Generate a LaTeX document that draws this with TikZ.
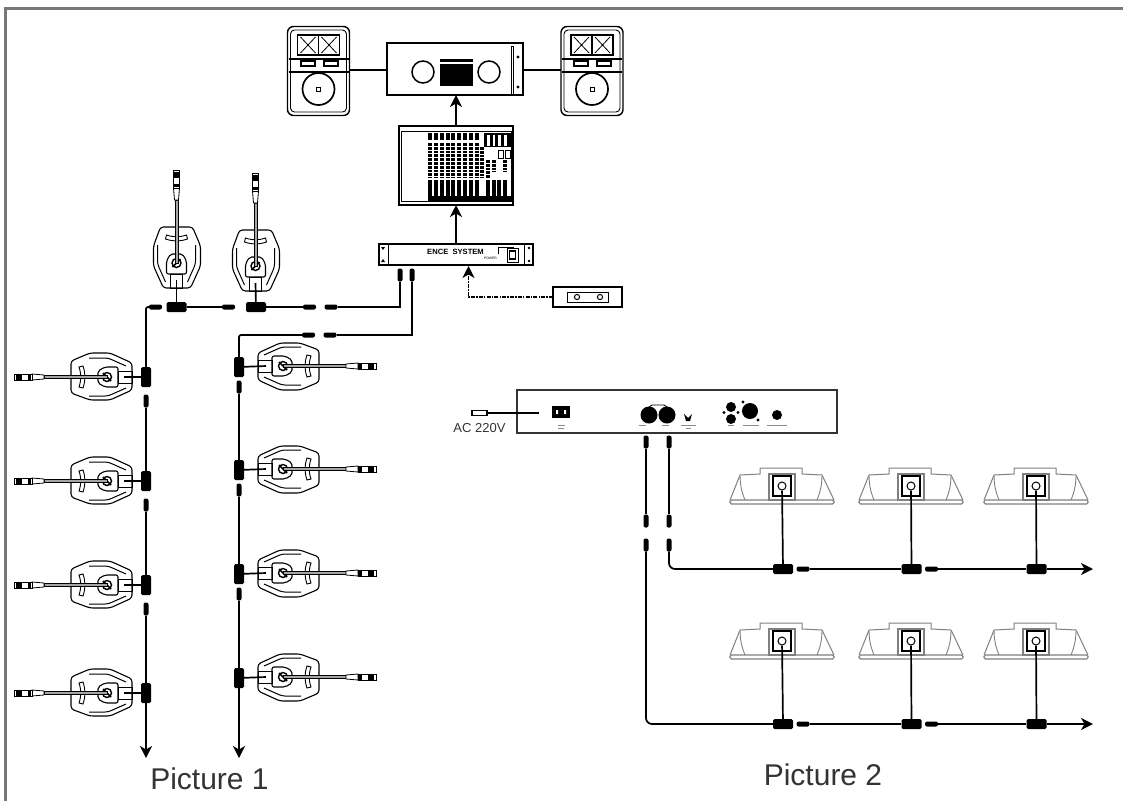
\documentclass[tikz,border=0pt]{standalone}
\usepackage{fontspec}
\setmainfont{Liberation Sans}
\usepackage{xcolor}
\usetikzlibrary{arrows.meta}
\definecolor{framegray}{HTML}{787878}
\definecolor{hoodgray}{HTML}{808080}
\definecolor{textgray}{HTML}{333333}
\tikzset{
    cable/.style={line width=1.7pt},
    tip/.style={-{Stealth[length=12pt,width=12pt,inset=3.5pt]}},
    jv/.style={fill=black,rounded corners=1.5pt,minimum width=10pt,minimum height=20pt,inner sep=0pt},
    jh/.style={fill=black,rounded corners=1.5pt,minimum width=20pt,minimum height=10pt,inner sep=0pt},
    pv/.style={fill=black,rounded corners=2pt,minimum width=5pt,minimum height=13pt,inner sep=0pt},
    ph/.style={fill=black,rounded corners=2pt,minimum width=13pt,minimum height=5pt,inner sep=0pt},
    box/.style={draw,line width=1.2pt,fill=white,inner sep=0pt,outer sep=0pt},
    pics/mic/.style={code={
        \draw[line width=1.1pt,fill=white,rounded corners=3pt] (-13,0) -- (14,0) -- (24,-22) -- (24,-42) -- (16,-61) -- (-16,-61) -- (-23,-42) -- (-23,-22) -- cycle;
        \draw[line width=1pt,rounded corners=3pt] (-19,-43) -- (-19,-24) -- (-11,-6) (19,-43) -- (19,-24) -- (11,-6);
        \draw[line width=.9pt] (-11,-49) to[bend right=18] (11,-49) -- (10,-53) to[bend left=18] (-10,-53) -- cycle;
        \draw[line width=1.1pt,rounded corners=2pt] (-10,-14) -- (-10,-27) -- (-6,-34) -- (6,-34) -- (10,-27) -- (10,-14) -- cycle;
        \draw[line width=1pt] (-6,-14) rectangle (6,0);
        \draw[line width=1.4pt] (0,-25) circle (4.5pt);
        \draw[line width=1.6pt] (-4,-21) -- (4,-29);
        \draw[line width=.7pt,fill=black!35] (-1.5,-25) rectangle (1.5,-88);
        \draw[line width=.8pt,fill=white] (-2,-88) -- (2,-88) -- (3,-100) -- (-3,-100) -- cycle;
        \draw[line width=.8pt,fill=white] (-3,-100) rectangle (3,-118);
        \fill (-3,-101) rectangle (3,-104);
        \fill (-3,-110) rectangle (3,-116);
        \coordinate (-plug) at (0,-8);
    }},
    pics/speaker/.style={code={
        \node[box,line width=1.4pt,rounded corners=6pt,minimum width=62pt,minimum height=89pt] (-body) at (0,0) {};
        \draw[line width=.9pt,rounded corners=4pt] (-28,-41) rectangle (28,41);
        \draw[line width=1.3pt] (-21,-36) rectangle (21,-16);
        \draw[line width=1.3pt] (0,-36) -- (0,-16);
        \draw[line width=.8pt] (-18,-34) -- (-3,-18) (-18,-18) -- (-3,-34) (3,-34) -- (18,-18) (3,-18) -- (18,-34);
        \draw[line width=1.1pt] (-30,-12) -- (30,-12) (-30,1) -- (30,1);
        \draw[line width=2pt] (-18,-10) rectangle (-4,-5) (5,-10) rectangle (19,-5);
        \draw[line width=1.7pt] (0,18) circle (16pt);
        \draw[line width=.9pt] (-2,16) rectangle (2,20);
    }},
    pics/hood/.style={code={
        \draw[hoodgray,line width=1.1pt,rounded corners=1.5pt] (-52,32) rectangle (52,36);
        \draw[hoodgray,line width=1pt] (-52,32) -- (-42,7) -- (-22,6) -- (-22,0) -- (20,0) -- (20,6) -- (40,7) -- (52,32);
        \draw[hoodgray,line width=.9pt] (-42,8) to[bend right=10] (-37,32) (40,8) to[bend left=10] (35,32);
        \draw[hoodgray,line width=1.2pt,fill=white] (-13,6) rectangle (13,32);
        \draw[line width=1.3pt] (-9,8) rectangle (9,28);
        \node[draw,line width=1pt,circle,fill=white,minimum size=8pt,inner sep=0pt] (-jack) at (0,18) {};
    }}
}
\begin{document}
\begin{tikzpicture}[x=1pt,y=-1pt]
    \useasboundingbox (0,0) rectangle (1123,801);

    % Frame
    \draw[framegray,line width=3pt] (5,801) -- (5,8.5) -- (1123,8.5);

    % Loudspeakers and amplifier
    \pic (spkL) at (318.5,71) {speaker};
    \pic (spkR) at (592,71) {speaker};
    \node[box,minimum width=136pt,minimum height=52pt] (amp) at (455,69) {};
    \draw[cable] (spkL-body.east |- 0,70) -- (amp.west |- 0,70);
    \draw[cable] (amp.east |- 0,70) -- (spkR-body.west |- 0,70);
    \draw[line width=1.5pt] (423,72) circle (11pt) (489,72) circle (11pt);
    \fill (440,59) rectangle (473,61.5);
    \fill (440,64) rectangle (473,86);
    \draw[line width=.8pt] (511,46) rectangle (513,95);
    \fill (518,57) circle (1.7pt) (518,87) circle (1.7pt);

    % Mixer
    \node[box,line width=1.4pt,minimum width=114pt,minimum height=79pt] (mixer) at (456,165.5) {};
    \draw[line width=.9pt] (401.5,131) rectangle (511,201);
    \foreach \i in {0,...,8} {
        \fill (428+5.85*\i,133) rectangle (432+5.85*\i,140);
        \draw[line width=4pt,dash pattern=on 2.8pt off 1pt] (430+5.85*\i,143) -- (430+5.85*\i,178);
        \fill (428+5.85*\i,180) rectangle (432+5.85*\i,201);
    }
    \fill (428,196) rectangle (511,201);
    \fill (484,133) rectangle (511,147);
    \foreach \i in {0,...,3} {
        \fill[white] (487+5.7*\i,135) rectangle (489.5+5.7*\i,146);
        \fill (486+5.7*\i,180) rectangle (490+5.7*\i,201);
    }
    \draw[line width=3.6pt,dash pattern=on 2.8pt off 1pt] (482,147) -- (482,178) (488,160) -- (488,178) (494,160) -- (494,172) (505,160) -- (505,172);
    \draw[line width=.8pt] (498,150) rectangle (503,158) (505,150) rectangle (510,158);

    % System unit
    \node[box,minimum width=154pt,minimum height=21pt] (unit) at (456,254.5) {};
    \draw[line width=.9pt] (388,244) -- (388,265) (524,244) -- (524,265);
    \fill (383,250) -- (385,247) -- (381,247) -- cycle (383,259) -- (385,262) -- (381,262) -- cycle;
    \fill (529,248) circle (1.4pt) (529,261) circle (1.4pt);
    \node[inner sep=0pt] (unitname) at (455.5,252) {\fontsize{7.6}{8}\selectfont\bfseries ENCE\ \ SYSTEM};
    \node[inner sep=0pt] (powername) at (490.5,258.5) {\fontsize{3.4}{4}\selectfont POWER};
    \draw[line width=1pt] (507,248) rectangle (518,262);
    \fill (509,250) rectangle (516,260);
    \fill[white] (510,252) rectangle (515,258);
    \draw[line width=.8pt] (498,254) -- (498,247.5) -- (514,247.5);

    % Remote unit
    \node[box,minimum width=69pt,minimum height=20pt] (remote) at (587.5,297) {};
    \draw[line width=1pt] (567,292) rectangle (608,302);
    \draw[line width=1pt] (577,297) circle (2.6pt) (600,297) circle (2.6pt);
    \coordinate (unitin) at (468.5,266);

    % Upper arrows
    \draw[cable,tip] (mixer.north) -- (mixer.north |- amp.south);
    \draw[cable,tip] (unit.north) -- (unit.north |- mixer.south);
    \draw[line width=1.8pt,tip,dash pattern=on 4pt off 1.2pt on 1.4pt off 1.2pt] (remote.west) -| (unitin);

    % Sockets under the unit
    \node[pv] (sA) at (400,275) {};
    \node[pv] (sB) at (412,275) {};

    % Table row
    \pic (mT1) at (176.5,288) {mic};
    \pic (mT2) at (255.5,291) {mic};
    \node[jh] (jA) at (176.5,307) {};
    \node[jh] (jB) at (256,307) {};
    \node[ph] (pA) at (155.5,307) {};
    \node[ph] (pB) at (228.5,307) {};
    \node[ph] (pC) at (309.5,307) {};
    \node[ph] (pD) at (331,307) {};
    \node[ph] (pE) at (308.5,335) {};
    \node[ph] (pF) at (330,335) {};
    \draw[cable] (mT1-plug) -- (jA);
    \draw[cable] (mT2-plug) -- (jB);
    \draw[cable] (jA) -- (pB);
    \draw[cable] (jB) -- (pC);
    \draw[cable] (pD) -| (sA);
    \draw[cable] (pF) -| (sB);

    % Column 1
    \foreach \n/\y in {1/377,2/481,3/585,4/693} {
        \node[jv] (jL\n) at (146,\y) {};
        \pic[rotate=90] (mL\n) at (132,\y) {mic};
        \draw[cable] (mL\n-plug) -- (jL\n);
    }
    \foreach \n/\m/\y in {1/2/401,2/3/505,3/4/609} {
        \node[pv] (pL\n) at (146,\y) {};
        \draw[cable] (pL\n) -- (jL\m);
    }
    \coordinate (endL) at (146,758);
    \draw[cable,tip] (jL4) -- (endL);
    \draw[cable,rounded corners=2pt] (pA) -| (jL1);

    % Column 2
    \foreach \n/\y in {1/367,2/470,3/574,4/678} {
        \node[jv] (jR\n) at (239,\y) {};
        \pic[rotate=-90] (mR\n) at (258,\y-1) {mic};
        \draw[cable] (mR\n-plug) -- (jR\n);
    }
    \foreach \n/\m/\y in {1/2/387,2/3/490,3/4/594} {
        \node[pv] (pR\n) at (239,\y) {};
        \draw[cable] (pR\n) -- (jR\m);
    }
    \coordinate (endR) at (239,758);
    \draw[cable,tip] (jR4) -- (endR);
    \draw[cable,rounded corners=2pt] (pE) -| (jR1);

    \node[inner sep=0pt,textgray] (picA) at (209.5,779) {\fontsize{30}{36}\selectfont Picture 1};

    % Rear panel
    \node[box,draw=black!80,minimum width=320pt,minimum height=43pt] (panel) at (677,411.5) {};
    \node[box,minimum width=15pt,minimum height=4.5pt] (acplug) at (479.5,413) {};
    \coordinate (acin) at (539,413);
    \draw[line width=1.4pt] (acplug) -- (acin);
    \node[inner sep=0pt,textgray] (acname) at (479.5,428) {\fontsize{13}{15}\selectfont AC 220V};
    \fill (552,406) rectangle (570,418);
    \fill[white] (556,410) rectangle (558,414) (564,410) rectangle (566,414);
    \node[fill=black,circle,minimum size=17pt,inner sep=0pt] (outA) at (649,415) {};
    \node[fill=black,circle,minimum size=17pt,inner sep=0pt] (outB) at (667,415) {};
    \draw[line width=.9pt] (649,407) -- (652,405) -- (664,405) -- (667,407);
    \fill (684,414) -- (688,418) -- (692,414) -- (690,421) -- (686,421) -- cycle;
    \fill (731,407) circle (5pt) (731,419) circle (5pt) (750,411) circle (8pt) (777,415) circle (5pt);
    \fill (724,412.5) circle (1.6pt) (738,412.5) circle (1.6pt) (743,402) circle (1.6pt) (758,420) circle (1.6pt);
    \foreach \x/\w in {561/7,642/7,665/7,688/15,731/6,751/16,777/20} {
        \draw[black!45,line width=.9pt] (\x-\w/2,425.5) -- (\x+\w/2,425.5);
    }
    \draw[black!45,line width=.9pt] (558,428) -- (564,428) (686,428) -- (691,428);

    % Branch lines
    \node[pv] (oA) at (646,442) {};
    \node[pv] (oB) at (669,442) {};
    \node[pv] (oC) at (646,521) {};
    \node[pv] (oD) at (669,521) {};
    \node[pv] (oE) at (646,545) {};
    \node[pv] (oF) at (669,545) {};
    \draw[cable] (oA) -- (oC);
    \draw[cable] (oB) -- (oD);

    % Upper and lower units
    \foreach \r/\s/\y/\b in {U/oF/468/569,D/oE/623/724} {
        \foreach \n/\x/\jx in {1/782/783,2/911/911.5,3/1036/1036.5} {
            \pic (h\r\n) at (\x,\y) {hood};
            \node[jh] (j\r\n) at (\jx,\b) {};
            \draw[cable] (h\r\n-jack) -- (j\r\n);
        }
        \node[ph] (p\r1) at (803,\b) {};
        \node[ph] (p\r2) at (931.5,\b) {};
        \coordinate (end\r) at (1093,\b);
        \draw[cable] (p\r1) -- (j\r2);
        \draw[cable] (p\r2) -- (j\r3);
        \draw[cable,tip] (j\r3) -- (end\r);
        \draw[cable,rounded corners=6pt] (\s) |- (j\r1);
    }

    \node[inner sep=0pt,textgray] (picB) at (823,775) {\fontsize{30}{36}\selectfont Picture 2};
\end{tikzpicture}
\end{document}
